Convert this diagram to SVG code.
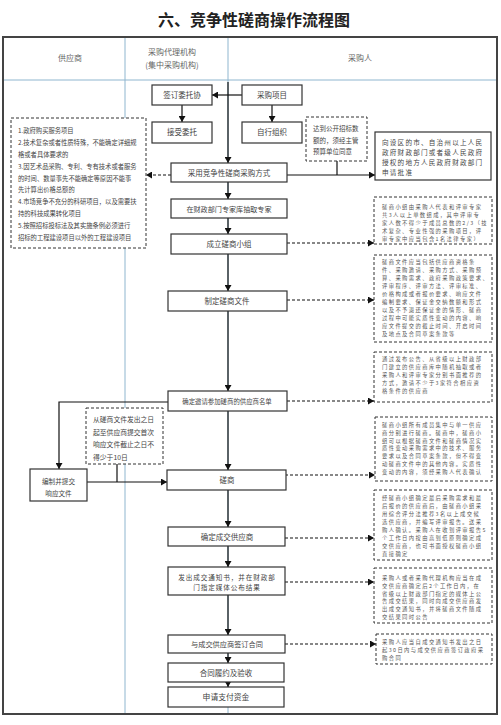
<svg xmlns="http://www.w3.org/2000/svg" width="501" height="725" viewBox="0 0 501 725">
<defs>
<marker id="ah" markerUnits="userSpaceOnUse" markerWidth="7" markerHeight="7" refX="6" refY="3.5" orient="auto">
<path d="M0,0 L6,3.5 L0,7 z" fill="#111"/>
</marker>
<style>
text{font-family:"Noto Sans CJK SC","Noto Sans",sans-serif;fill:#444;}
.t{font-size:7.5px;text-anchor:middle;}
.n{font-size:5.3px;letter-spacing:1.4px;fill:#555;}
.box{fill:#fff;stroke:#333;stroke-width:1.2;}
.dbox{fill:#fff;stroke:#333;stroke-width:1;stroke-dasharray:3,2;}
.lane{stroke:#8fb6cf;stroke-width:1;fill:none;}
.c{stroke:#111;stroke-width:1.2;fill:none;}
.ca{stroke:#111;stroke-width:1.2;fill:none;marker-end:url(#ah);}
.cd{stroke:#111;stroke-width:1.1;fill:none;stroke-dasharray:3,2;marker-end:url(#ah);}
</style>
</defs>
<rect width="501" height="725" fill="#fff"/>
<text x="254" y="26" style="font-size:16px;font-weight:bold;fill:#222;text-anchor:middle;">六、竞争性磋商操作流程图</text>

<g id="frame">
<rect x="3" y="37" width="494" height="677" fill="none" stroke="#444" stroke-width="2"/>
<line class="lane" x1="4" y1="80" x2="496" y2="80"/>
<line class="lane" x1="125" y1="38" x2="125" y2="713"/>
<line class="lane" x1="228" y1="38" x2="228" y2="713"/>
<text x="70" y="61" style="font-size:8px;text-anchor:middle;fill:#666;">供应商</text>
<text x="172" y="55" style="font-size:8px;text-anchor:middle;fill:#666;">采购代理机构</text>
<text x="172" y="68" style="font-size:8px;text-anchor:middle;fill:#666;">(集中采购机构)</text>
<text x="360" y="61" style="font-size:8px;text-anchor:middle;fill:#666;">采购人</text>
</g>

<g id="connectors">
<line class="ca" x1="242" y1="95" x2="212" y2="95"/>
<line class="ca" x1="182" y1="105" x2="182" y2="122"/>
<line class="ca" x1="272" y1="105" x2="272" y2="122"/>
<line class="ca" x1="228" y1="82" x2="228" y2="163"/>
<line class="ca" x1="228" y1="182" x2="228" y2="199"/>
<line class="ca" x1="228" y1="218" x2="228" y2="234"/>
<line class="ca" x1="228" y1="254" x2="228" y2="291"/>
<line class="ca" x1="228" y1="311" x2="228" y2="391"/>
<line class="ca" x1="228" y1="411" x2="228" y2="470"/>
<line class="ca" x1="228" y1="490" x2="228" y2="527"/>
<line class="ca" x1="228" y1="546" x2="228" y2="567"/>
<line class="ca" x1="228" y1="595" x2="228" y2="635"/>
<line class="ca" x1="228" y1="653" x2="228" y2="663"/>
<line class="ca" x1="228" y1="682" x2="228" y2="687"/>
<line class="ca" x1="287" y1="175" x2="375" y2="175"/>
<line class="c" x1="337" y1="161" x2="337" y2="175"/>
<polyline class="ca" points="168,402 59,402 59,469"/>
<line class="ca" x1="87" y1="482" x2="167" y2="482"/>
<line class="c" x1="117" y1="464" x2="117" y2="482"/>
<line class="cd" x1="171" y1="175" x2="146" y2="175"/>
<line class="cd" x1="287" y1="243" x2="374" y2="243"/>
<line class="cd" x1="287" y1="300" x2="374" y2="300"/>
<line class="cd" x1="287" y1="401" x2="374" y2="401"/>
<line class="cd" x1="285" y1="475" x2="375" y2="475"/>
<line class="cd" x1="285" y1="538" x2="374" y2="538"/>
<line class="cd" x1="285" y1="582" x2="374" y2="582"/>
<line class="cd" x1="285" y1="644" x2="376" y2="644"/>
</g>

<g id="n-qianding"><rect class="box" x="152" y="85" width="60" height="20"/><text class="t" x="182" y="98">签订委托协</text></g>
<g id="n-caigouxiangmu"><rect class="box" x="242" y="85" width="60" height="20"/><text class="t" x="272" y="98">采购项目</text></g>
<g id="n-jieshou"><rect class="box" x="152" y="122" width="60" height="21"/><text class="t" x="182" y="135">接受委托</text></g>
<g id="n-zixing"><rect class="box" x="242" y="122" width="60" height="21"/><text class="t" x="272" y="135">自行组织</text></g>
<g id="n-caiyong"><rect class="box" x="171" y="163" width="116" height="19"/><text class="t" x="229" y="175.5">采用竞争性磋商采购方式</text></g>
<g id="n-zhuanjia"><rect class="box" x="171" y="199" width="116" height="19"/><text class="t" x="229" y="211.5" style="font-size:7.1px">在财政部门专家库抽取专家</text></g>
<g id="n-xiaozu"><rect class="box" x="171" y="234" width="116" height="20"/><text class="t" x="229" y="247">成立磋商小组</text></g>
<g id="n-wenjian"><rect class="box" x="168" y="291" width="119" height="20"/><text class="t" x="227" y="304">制定磋商文件</text></g>
<g id="n-mingdan"><rect class="box" x="168" y="391" width="119" height="20"/><text class="t" x="227" y="403.5" style="font-size:6.4px">确定邀请参加磋商的供应商名单</text></g>
<g id="n-cuoshang"><rect class="box" x="167" y="470" width="119" height="20"/><text class="t" x="227" y="483">磋商</text></g>
<g id="n-chengjiao"><rect class="box" x="168" y="527" width="117" height="19"/><text class="t" x="227" y="539.5">确定成交供应商</text></g>
<g id="n-tongzhi"><rect class="box" x="168" y="567" width="117" height="28"/><text class="t" x="227" y="579.5" style="font-size:6.6px;letter-spacing:0.9px">发出成交通知书，并在财政部</text><text class="t" x="227" y="589.5" style="font-size:6.6px;letter-spacing:0.9px">门指定媒体公布结果</text></g>
<g id="n-hetong"><rect class="box" x="168" y="635" width="117" height="18"/><text class="t" x="227" y="646.5" style="font-size:7.2px">与成交供应商签订合同</text></g>
<g id="n-lvyue"><rect class="box" x="168" y="663" width="116" height="19"/><text class="t" x="226" y="675.5">合同履约及验收</text></g>
<g id="n-zhifu"><rect class="box" x="168" y="687" width="116" height="20"/><text class="t" x="226" y="700" style="font-size:7.8px">申请支付资金</text></g>
<g id="n-bianzhi"><rect class="box" x="30" y="469" width="57" height="32"/><text class="t" x="58.5" y="484" style="font-size:6.6px">编制并提交</text><text class="t" x="58.5" y="495.5" style="font-size:6.6px">响应文件</text></g>
<g id="n-shenqing"><rect class="box" x="375" y="132" width="116" height="48"/>
<text x="382" y="145" style="font-size:6.6px;letter-spacing:1.2px">向设区的市、自治州以上人民</text>
<text x="382" y="155" style="font-size:6.6px;letter-spacing:1.2px">政府财政部门或者级人民政府</text>
<text x="382" y="165" style="font-size:6.6px;letter-spacing:1.2px">授权的地方人民政府财政部门</text>
<text x="382" y="175" style="font-size:6.6px;letter-spacing:1.2px">申请批准</text></g>

<g id="n-tiaojian"><rect class="dbox" x="11" y="118" width="135" height="130"/>
<text x="18" y="133" style="font-size:6.3px">1.政府购买服务项目</text>
<text x="18" y="145" style="font-size:6.3px">2.技术复杂或者性质特殊，不能确定详细规</text>
<text x="18" y="157" style="font-size:6.3px">格或者具体要求的</text>
<text x="18" y="168.5" style="font-size:6.3px">3.因艺术品采购、专利、专有技术或者服务</text>
<text x="18" y="180.5" style="font-size:6.3px">的时间、数量事先不能确定等原因不能事</text>
<text x="18" y="192" style="font-size:6.3px">先计算出价格总额的</text>
<text x="18" y="204" style="font-size:6.3px">4.市场竞争不充分的科研项目，以及需要扶</text>
<text x="18" y="216" style="font-size:6.3px">持的科技成果转化项目</text>
<text x="18" y="228" style="font-size:6.3px">5.按照招标投标法及其实施条例必须进行</text>
<text x="18" y="240" style="font-size:6.3px">招标的工程建设项目以外的工程建设项目</text></g>

<g id="n-tongyi"><rect class="dbox" x="306" y="117" width="61" height="44"/>
<text x="313" y="130.5" style="font-size:6.5px">达到公开招标数</text>
<text x="313" y="142.5" style="font-size:6.5px">额的，须经主管</text>
<text x="313" y="153.5" style="font-size:6.5px">预算单位同意</text></g>

<g id="n-shiri"><rect class="dbox" x="86" y="408" width="77" height="56"/>
<text x="93" y="421.5" style="font-size:6.8px">从磋商文件发出之日</text>
<text x="93" y="434.5" style="font-size:6.8px">起至供应商提交首次</text>
<text x="93" y="446.5" style="font-size:6.8px">响应文件截止之日不</text>
<text x="93" y="459.5" style="font-size:6.8px">得少于10日</text></g>

<g id="n-note1"><rect class="dbox" x="374" y="197" width="118" height="47"/>
<text class="n" x="382" y="209">磋商小组由采购人代表和评审专家</text>
<text class="n" x="382" y="217">共3人以上单数组成，其中评审专</text>
<text class="n" x="382" y="225">家人数不得少于成员总数的2/3（技</text>
<text class="n" x="382" y="233">术复杂、专业性强的采购项目，评</text>
<text class="n" x="382" y="241">审专家中应当包含1名法律专家）</text></g>

<g id="n-note2"><rect class="dbox" x="374" y="255" width="118" height="87"/>
<text class="n" x="382" y="264">磋商文件应当包括供应商资格条</text>
<text class="n" x="382" y="272">件、采购邀请、采购方式、采购预</text>
<text class="n" x="382" y="280">算、采购需求、政府采购政策要求、</text>
<text class="n" x="382" y="288">评审程序、评审方法、评审标准、</text>
<text class="n" x="382" y="296">价格构成或者报价要求、响应文件</text>
<text class="n" x="382" y="304">编制要求、保证金交纳数额和形式</text>
<text class="n" x="382" y="312">以及不予退还保证金的情形、磋商</text>
<text class="n" x="382" y="320">过程中可能实质性变动的内容、响</text>
<text class="n" x="382" y="328">应文件提交的截止时间、开启时间</text>
<text class="n" x="382" y="336">及地点及合同草案条款等</text></g>

<g id="n-note3"><rect class="dbox" x="374" y="352" width="118" height="50"/>
<text class="n" x="382" y="361">通过发布公告、从省级以上财政部</text>
<text class="n" x="382" y="369">门建立的供应商库中随机抽取或者</text>
<text class="n" x="382" y="377">采购人和评审专家分别书面推荐的</text>
<text class="n" x="382" y="385">方式，邀请不少于3家符合相应资</text>
<text class="n" x="382" y="393">格条件的供应商</text></g>

<g id="n-note4"><rect class="dbox" x="375" y="417" width="117" height="64"/>
<text class="n" x="382" y="427">磋商小组所有成员集中与单一供应</text>
<text class="n" x="382" y="434.8">商分别进行磋商。磋商中，磋商小</text>
<text class="n" x="382" y="442.6">组可以根据磋商文件和磋商情况实</text>
<text class="n" x="382" y="450.4">质性变动采购需求中的技术、服务</text>
<text class="n" x="382" y="458.2">要求以及合同草案条款，但不得变</text>
<text class="n" x="382" y="466">动磋商文件中的其他内容。实质性</text>
<text class="n" x="382" y="473.8">变动的内容，须经采购人代表确认</text></g>

<g id="n-note5"><rect class="dbox" x="374" y="490" width="118" height="70"/>
<text class="n" x="382" y="500">经磋商小组确定最后采购需求和最</text>
<text class="n" x="382" y="508">后报价的供应商后，由磋商小组采</text>
<text class="n" x="382" y="516">用综合评分法推荐3名以上成交候</text>
<text class="n" x="382" y="524">选供应商，并编写评审报告。送采</text>
<text class="n" x="382" y="532">购人确认。采购人在收到评审报告5</text>
<text class="n" x="382" y="540">个工作日内按由高到低原则确定成</text>
<text class="n" x="382" y="548">交供应商，也可书面授权磋商小组</text>
<text class="n" x="382" y="556">直接确定</text></g>

<g id="n-note6"><rect class="dbox" x="374" y="568" width="118" height="55"/>
<text class="n" x="382" y="580">采购人或者采购代理机构应当在成</text>
<text class="n" x="382" y="587.8">交供应商确定后2个工作日内，在</text>
<text class="n" x="382" y="595.6">省级以上财政部门指定的媒体上公</text>
<text class="n" x="382" y="603.4">告成交结果，同时向成交供应商发</text>
<text class="n" x="382" y="611.2">出成交通知书，并将磋商文件随成</text>
<text class="n" x="382" y="619">交结果同时公告</text></g>

<g id="n-note7"><rect class="dbox" x="376" y="634" width="116" height="30"/>
<text class="n" x="382" y="644">采购人应当自成交通知书发出之日</text>
<text class="n" x="382" y="652">起30日内与成交供应商签订政府采</text>
<text class="n" x="382" y="660">购合同</text></g>
</svg>
